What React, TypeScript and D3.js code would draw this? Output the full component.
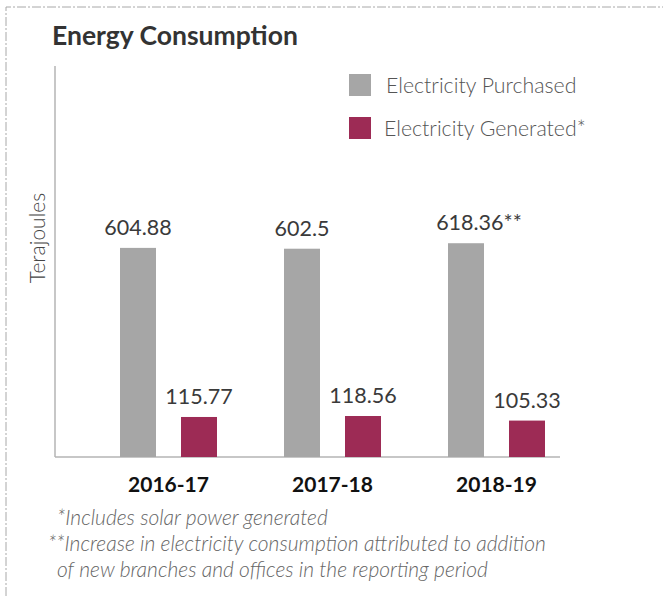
import React from "react";
import * as d3 from "d3";

const categories = ["2016-17", "2017-18", "2018-19"];
const seriesNames = ["Electricity Purchased", "Electricity Generated*"];
const purchased = [604.88, 602.5, 618.36];
const generated = [115.77, 118.56, 105.33];
const purchasedLabels = ["604.88", "602.5", "618.36**"];
const generatedLabels = ["115.77", "118.56", "105.33"];
const footnotes = [
  "*Includes solar power generated",
  "**Increase in electricity consumption attributed to addition",
  "of new branches and offices in the reporting period",
];

const COLORS = ["#a6a6a6", "#9d2b55"];
const FONT = "Lato, 'Open Sans', sans-serif";

export default function App() {
  const W = 663;
  const H = 596;
  const baseY = 457;
  const axisX = 55;
  const y = d3.scaleLinear().domain([0, 700]).range([baseY, 215]);
  const x0 = d3.scaleBand<string>().domain(categories).range([86.5, 578.5]);
  const x1 = d3
    .scaleBand<string>()
    .domain(seriesNames)
    .range([33.5, 130.5])
    .paddingInner(0.41);

  const values = [purchased, generated];
  const labels = [purchasedLabels, generatedLabels];

  return (
    <svg
      width={W}
      height={H}
      style={{ position: "absolute", left: 0, top: 0, background: "#fff" }}
    >
      {/* dashed border */}
      <path
        d={`M6,${H} L6,7 L${W},7`}
        fill="none"
        stroke="#a8a8a8"
        strokeWidth={1}
        strokeDasharray="9 2 2 2"
      />
      <text
        x={52}
        y={45}
        fontFamily={FONT}
        fontWeight={700}
        fontSize={26.5}
        fill="#333"
      >
        Energy Consumption
      </text>

      {/* legend */}
      {seriesNames.map((s, i) => (
        <g key={s} transform={`translate(349,${74 + i * 43})`}>
          <rect width={22} height={22} fill={COLORS[i]} />
          <text
            x={37 - i * 2}
            y={19}
            fontFamily={FONT}
            fontWeight={300}
            fontSize={21.3}
            fill="#555"
          >
            {s}
          </text>
        </g>
      ))}

      {/* y axis label */}
      <text
        transform={`translate(45,238) rotate(-90)`}
        textAnchor="middle"
        fontFamily={FONT}
        fontWeight={300}
        fontSize={21}
        fill="#444"
      >
        Terajoules
      </text>

      {/* axes */}
      <line x1={axisX} x2={axisX} y1={66} y2={baseY} stroke="#b5b5b5" strokeWidth={1.5} />
      <line x1={axisX} x2={560} y1={baseY} y2={baseY} stroke="#b5b5b5" strokeWidth={1.5} />

      {/* bars */}
      {categories.map((c, ci) => (
        <g key={c} transform={`translate(${x0(c)},0)`}>
          {seriesNames.map((s, si) => {
            const v = values[si][ci];
            const bx = x1(s) as number;
            const bw = x1.bandwidth();
            return (
              <g key={s}>
                <rect
                  x={bx}
                  y={y(v)}
                  width={bw}
                  height={baseY - y(v)}
                  fill={COLORS[si]}
                />
                <text
                  x={bx + bw / 2 + (labels[si][ci].endsWith("**") ? 13 : 0)}
                  y={y(v) - 13}
                  textAnchor="middle"
                  fontFamily={FONT}
                  fontSize={21.5}
                  fill="#3a3a3a"
                >
                  {labels[si][ci]}
                </text>
              </g>
            );
          })}
          <text
            x={x0.bandwidth() / 2}
            y={492}
            textAnchor="middle"
            fontFamily={FONT}
            fontWeight={700}
            fontSize={21}
            fill="#111"
          >
            {c}
          </text>
        </g>
      ))}

      {/* footnotes */}
      {footnotes.map((f, i) => (
        <text
          key={i}
          x={i === 0 ? 57 : i === 1 ? 48 : 57}
          y={525 + i * 26}
          fontFamily={FONT}
          fontStyle="italic"
          fontWeight={300}
          fontSize={21}
          fill="#666"
        >
          {f}
        </text>
      ))}
    </svg>
  );
}
